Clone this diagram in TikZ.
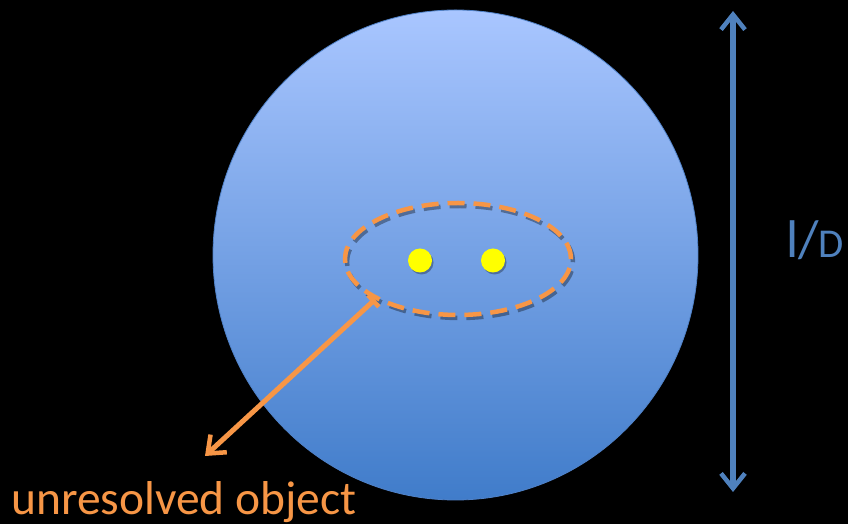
\documentclass[tikz,border=0pt]{standalone}
\usepackage{fontspec}
\setmainfont{Carlito}
\usetikzlibrary{shapes.geometric,arrows.meta}
\definecolor{lenstop}{RGB}{169,198,255}
\definecolor{lensbot}{RGB}{64,124,202}
\definecolor{lensedge}{RGB}{80,130,200}
\definecolor{orng}{RGB}{247,150,70}
\definecolor{blu}{RGB}{79,129,189}
\definecolor{yel}{RGB}{255,255,0}
\tikzset{
  lensshape/.style={ellipse, inner sep=0pt, minimum width=485pt, minimum height=490pt,
    top color=lenstop, bottom color=lensbot, draw=lensedge, line width=0.8pt},
  objring/.style={ellipse, inner sep=0pt, minimum width=226pt, minimum height=112pt,
    draw=orng, line width=4.5pt, dash pattern=on 17pt off 9pt},
  ringshadow/.style={ellipse, inner sep=0pt, minimum width=226pt, minimum height=112pt,
    draw=black, draw opacity=0.35, line width=4.5pt, dash pattern=on 17pt off 9pt},
  starshape/.style={circle, fill=yel, inner sep=0pt, minimum size=24pt},
  starshadow/.style={circle, fill=black, fill opacity=0.3, inner sep=0pt, minimum size=24pt},
  pointer/.style={draw=orng, line width=5pt, {Bar[width=16pt,line width=4.5pt]}-{Straight Barb[length=15pt,width=24pt,line width=4.5pt]}},
  scalebar/.style={draw=blu, line width=5.5pt, {Straight Barb[length=15pt,width=24pt,line width=4.5pt]}-{Straight Barb[length=15pt,width=24pt,line width=4.5pt]}},
  lbl/.style={inner sep=0pt, anchor=base west}
}
\begin{document}
\begin{tikzpicture}[x=1pt,y=1pt]
\fill[black] (0,0) rectangle (848,524);
\useasboundingbox (0,0) rectangle (848,524);
% lens disk
\node[lensshape] (lens) at (455.5,269) {};
% object ring with shadow
\node[ringshadow] (objsh) at (460,262) {};
\node[objring] (obj) at (458,265) {};
% two point sources
\node[starshadow] (s1sh) at (421.5,261.5) {};
\node[starshadow] (s2sh) at (494.5,261.5) {};
\node[starshape] (s1) at (420,263.5) {};
\node[starshape] (s2) at (493,263.5) {};
% pointer to label
\coordinate (ptend) at (205,68);
\draw[pointer] (obj.206) -- (ptend);
% scale bar
\coordinate (bartop) at (733,513);
\coordinate (barbot) at (733,32);
\draw[scalebar] (bartop) -- (barbot);
% labels
\node[lbl, text=blu] (ld) at (786,266) {\fontsize{53}{53}\selectfont l/\fontsize{41}{41}\selectfont D};
\node[lbl, text=orng] (uo) at (11,9) {\fontsize{47.5}{47.5}\selectfont unresolved object};
\end{tikzpicture}
\end{document}
